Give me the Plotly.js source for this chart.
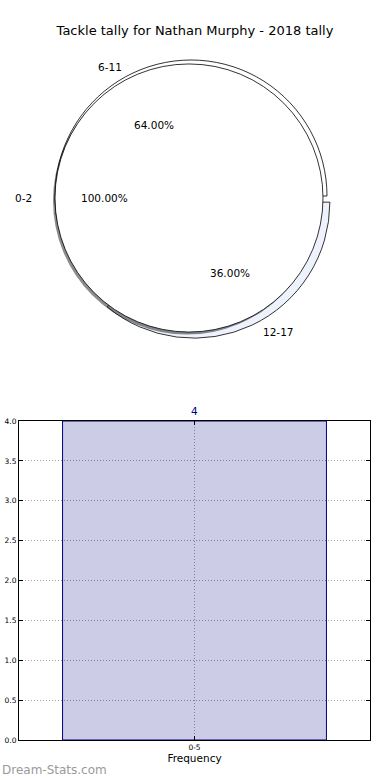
<!DOCTYPE html>
<html>
<head>
<meta charset="utf-8">
<script src="https://cdn.plot.ly/plotly-3.0.1.min.js"></script>
<style>html,body{margin:0;padding:0;background:#fff;}#chart{width:390px;height:780px;}</style>
</head>
<body>
<div id="chart"></div>
<script>
// ---- data ----
const chartTitle = 'Tackle tally for Nathan Murphy - 2018 tally';
const frontLabels = ['0-2'];
const frontValues = [100];
const backLabels = ['6-11', '12-17'];
const backValues = [64, 36];
const backPull = [0, 0.05];
const barCategories = ['0-5'];
const barValues = [4];
const watermark = 'Dream-Stats.com';

// ---- layout helpers ----
const W = 390, H = 780;
const FONT = 'DejaVu Sans, Liberation Sans, sans-serif';

function pieDomain(cx, cy, r, maxPull) {
  const half = r * (1 + maxPull);
  return {
    x: [(cx - half) / W, (cx + half) / W],
    y: [(H - cy - half) / H, (H - cy + half) / H]
  };
}
// Plotly (counterclockwise) places the first slice clockwise of `rotation`;
// choose rotation so that the first slice starts at 3 o'clock going counterclockwise.
function ccwRotation(values) {
  const total = values.reduce((a, b) => a + b, 0);
  return 90 - 360 * values[0] / total;
}

const front = {cx: 189, cy: 198, r: 134, rx: 141, ry: 128};
const back = {cx: 191, cy: 196, r: 136, rx: 143, ry: 130};
const shadow = {cx: 187, cy: 200.5, r: 134};

const pieCommon = {
  type: 'pie', sort: false, direction: 'counterclockwise',
  textinfo: 'none', hoverinfo: 'skip', showlegend: false
};

const traces = [
  Object.assign({}, pieCommon, {
    labels: backLabels, values: backValues, pull: backPull, rotation: ccwRotation(backValues),
    marker: {colors: ['#ffffff', '#edf2fc'], line: {color: '#000', width: 0.8}},
    domain: pieDomain(back.cx, back.cy, back.r, Math.max.apply(null, backPull))
  }),
  Object.assign({}, pieCommon, {
    labels: frontLabels, values: frontValues, rotation: ccwRotation(frontValues),
    marker: {colors: ['rgba(0,0,0,0.45)'], line: {width: 0}},
    domain: pieDomain(shadow.cx, shadow.cy, shadow.r, 0)
  }),
  Object.assign({}, pieCommon, {
    labels: frontLabels, values: frontValues, rotation: ccwRotation(frontValues),
    marker: {colors: ['#ffffff'], line: {color: '#000', width: 0.8}},
    domain: pieDomain(front.cx, front.cy, front.r, 0)
  }),
  {
    type: 'bar', x: barCategories, y: barValues, width: 0.8,
    marker: {color: 'rgba(0,0,128,0.2)', line: {color: '#000080', width: 1}},
    hoverinfo: 'skip', xaxis: 'x', yaxis: 'y', showlegend: false
  }
];

const annotations = [];
function pieTexts(labels, values, geo, pulls) {
  const total = values.reduce((a, b) => a + b, 0);
  let cum = 0;
  labels.forEach((lab, i) => {
    const f0 = cum / total; cum += values[i]; const f1 = cum / total;
    const mid = Math.PI * (f0 + f1);
    const c = Math.cos(mid), s = Math.sin(mid);
    const p = (pulls ? pulls[i] : 0) * geo.r;
    const ox = p * c, oy = -p * s;
    const lx = geo.cx + ox + 1.1 * geo.rx * c, ly = geo.cy + oy - 1.1 * geo.ry * s;
    const tx = geo.cx + ox + 0.6 * geo.rx * c, ty = geo.cy + oy - 0.6 * geo.ry * s;
    annotations.push({xref: 'paper', yref: 'paper', x: lx / W, y: 1 - ly / H,
      text: lab, showarrow: false, xanchor: c < -1e-9 ? 'right' : 'left', yanchor: 'middle',
      font: {family: FONT, size: 10.5, color: '#000'}});
    annotations.push({xref: 'paper', yref: 'paper', x: tx / W, y: 1 - ty / H,
      text: (100 * values[i] / total).toFixed(2) + '%', showarrow: false,
      xanchor: 'center', yanchor: 'middle',
      font: {family: FONT, size: 10.5, color: '#000'}});
  });
}
pieTexts(backLabels, backValues, back, backPull);
pieTexts(frontLabels, frontValues, front, null);

barCategories.forEach((c, i) => {
  annotations.push({xref: 'x', yref: 'y', x: c, y: barValues[i], text: String(barValues[i]),
    showarrow: false, yanchor: 'bottom', yshift: 2,
    font: {family: FONT, size: 10.5, color: '#000080'}});
});

annotations.push({xref: 'paper', yref: 'paper', x: 0, y: 1 - 770 / H, xanchor: 'left',
  yanchor: 'middle', text: watermark, showarrow: false,
  font: {family: FONT, size: 12, color: '#9a9a9a'}});

const gridStyle = {showgrid: true, gridcolor: '#a0a0a0', griddash: '1px,2px', gridwidth: 1};

const layout = {
  width: W, height: H,
  margin: {l: 0, r: 0, t: 0, b: 0},
  paper_bgcolor: '#fff', plot_bgcolor: '#fff',
  font: {family: FONT, color: '#000'},
  showlegend: false,
  title: {text: chartTitle, x: 0.5, xanchor: 'center', y: 1 - 30 / H, yanchor: 'middle',
    font: {family: FONT, size: 13, color: '#000'}},
  xaxis: Object.assign({
    domain: [19 / W, 370 / W], anchor: 'y', type: 'category',
    range: [-0.532, 0.532], fixedrange: true,
    showline: true, mirror: 'ticks', linecolor: '#000', linewidth: 1,
    ticks: 'inside', ticklen: 4, tickcolor: '#000',
    tickfont: {family: FONT, size: 7.5, color: '#000'},
    title: {text: 'Frequency', font: {family: FONT, size: 10.5, color: '#000'}, standoff: 2},
    zeroline: false
  }, gridStyle),
  yaxis: Object.assign({
    domain: [(H - 740) / H, (H - 421) / H], anchor: 'x',
    range: [0, 4], dtick: 0.5, tick0: 0, tickformat: '.1f', fixedrange: true,
    showline: true, mirror: 'ticks', linecolor: '#000', linewidth: 1,
    ticks: 'inside', ticklen: 4, tickcolor: '#000',
    tickfont: {family: FONT, size: 7.5, color: '#000'},
    zeroline: false
  }, gridStyle),
  annotations: annotations
};

Plotly.newPlot('chart', traces, layout, {staticPlot: true, displayModeBar: false});
</script>
</body>
</html>
